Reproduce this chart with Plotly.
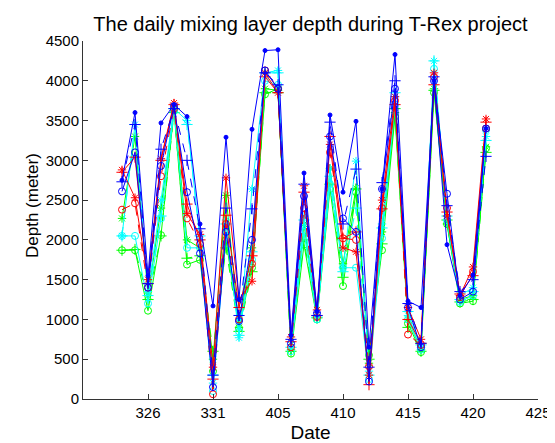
import plotly.graph_objects as go

# Dates (month-day) and their day-of-year positions (2006)
date_labels = ["324","325","326","327","328","329","330","331",
               "401","402","403","404","405","406","407","408","409","410",
               "411","412","413","414","415","416","417","418","419","420","421"]
day_of_year = list(range(83, 91)) + list(range(91, 112))

tick_vals = [85, 90, 95, 100, 105, 110, 115]
tick_text = ["326", "331", "405", "410", "415", "420", "425"]

# Series values (meters)
b_dot   = [2750,3600,1550,3470,3700,3550,2200,1170,3290,1250,3390,4380,4390,800,2840,1100,3570,2600,3490,650,2640,4330,1230,1150,4000,1940,1300,1560,3400]
b_plus  = [2730,3450,1450,3140,3650,3000,2140,300,2400,1050,2390,4100,3950,750,2700,1050,3480,2200,2890,400,2720,4000,1200,700,4050,2430,1350,1500,3050]
b_circ  = [2610,3100,1400,2930,3680,2600,1830,150,2100,980,2000,4130,3900,700,2550,1080,3300,2270,2100,220,2640,3900,1150,650,4000,2580,1250,1350,3400]
r_star  = [2880,2530,1500,3020,3720,2330,2070,400,2780,1250,1480,4100,3850,780,2680,1120,3200,1900,1850,300,2500,3800,1150,750,4100,2300,1300,1660,3520]
r_plus  = [2850,3040,1450,3000,3700,2450,2000,250,2310,1150,1800,4050,3850,720,2600,1050,3300,2020,2100,180,2390,3700,1000,700,3950,2350,1320,1550,3480]
r_circ  = [2380,2460,1400,2800,3650,2270,1950,60,2200,1000,1700,4130,3900,650,2400,1030,3100,2020,2000,410,2400,3750,810,680,4050,2400,1280,1600,3400]
g_star  = [2270,3300,1300,2400,3650,2000,1900,500,2560,900,1900,3900,3880,620,2200,1020,2900,1700,2650,450,2100,3600,1000,620,3900,2200,1250,1300,3170]
g_circ  = [1870,1870,1110,2060,3620,1690,1750,350,2000,890,1650,3830,3900,570,1940,1000,2640,1420,2600,550,1870,3550,950,590,3850,2200,1200,1230,3150]
g_plus  = [1870,1880,1250,2050,3600,1770,1800,600,1900,850,1600,3850,3850,600,2000,1020,2700,1530,2640,500,1950,3650,900,600,3880,2250,1220,1250,3100]
c_star  = [2050,3450,1350,2500,3650,3500,2000,200,2250,770,2640,4100,4130,680,2300,1050,2900,1650,2990,350,2200,3800,1050,650,4250,2300,1300,1400,3300]
c_circ  = [2050,2050,1200,2270,3620,1900,1900,100,2100,850,1750,4000,3950,600,2100,1000,2700,1650,1650,250,2020,3700,1000,620,4150,2250,1220,1300,3380]
c_plus  = [2050,3450,1300,2300,3650,3450,2050,300,2200,800,1850,4100,4100,650,2250,1030,2800,1600,2400,300,2150,3850,1100,680,4250,2300,1250,1350,3250]

BLUE, GREEN, RED, CYAN = "#0000FF", "#00FF00", "#FF0000", "#00FFFF"

series = [
    (g_circ, GREEN, "circle-open", 7, "solid"),
    (g_plus, GREEN, "cross-thin-open", 8, "dash"),
    (g_star, GREEN, "asterisk-open", 7, "solid"),
    (c_circ, CYAN, "circle-open", 7, "solid"),
    (c_plus, CYAN, "cross-thin-open", 8, "dash"),
    (c_star, CYAN, "asterisk-open", 7, "solid"),
    (r_circ, RED, "circle-open", 7, "dash"),
    (r_plus, RED, "cross-thin-open", 8, "solid"),
    (r_star, RED, "asterisk-open", 7, "solid"),
    (b_circ, BLUE, "circle-open", 7, "solid"),
    (b_plus, BLUE, "cross-thin-open", 8, "dash"),
    (b_dot, BLUE, "circle", 4, "solid"),
]

fig = go.Figure()
for vals, color, sym, size, dash in series:
    fig.add_trace(go.Scatter(
        x=day_of_year, y=vals, mode="lines+markers",
        line=dict(color=color, width=1, dash=dash),
        marker=dict(symbol=sym, size=size, color=color, line=dict(color=color, width=1)),
        showlegend=False,
    ))

font_family = "Liberation Sans, Arial, sans-serif"
fig.update_layout(
    width=555, height=443,
    margin=dict(l=75, r=13, t=33, b=47),
    paper_bgcolor="white", plot_bgcolor="white",
    font=dict(family=font_family, color="black"),
    title=dict(text="The daily mixing layer depth during T-Rex project",
               x=0.5, xref="paper", xanchor="center",
               y=1 - 16/443, yref="container", yanchor="middle",
               font=dict(size=20, family=font_family, color="black")),
    annotations=[dict(text="Depth (meter)", textangle=-90,
                      xref="paper", yref="paper",
                      x=-(75 - 23) / 466.7, y=(396 - 200) / 363,
                      xanchor="center", yanchor="middle", showarrow=False,
                      font=dict(size=17, family=font_family, color="black"))],
)
fig.update_xaxes(
    range=[80, 115], tickmode="array", tickvals=tick_vals, ticktext=tick_text,
    ticks="inside", ticklen=5, tickcolor="#333", showline=True, linecolor="#333",
    linewidth=1, showgrid=False, zeroline=False, mirror=False,
    tickfont=dict(size=15, color="black"),
    title=dict(text="Date", font=dict(size=19, color="black"), standoff=5),
)
fig.update_yaxes(
    range=[0, 4500], dtick=500, tick0=0,
    ticks="inside", ticklen=5, tickcolor="#333", showline=True, linecolor="#333",
    linewidth=1, showgrid=False, zeroline=False, mirror=False,
    tickfont=dict(size=15, color="black"),
)

fig.write_html("out.html")
